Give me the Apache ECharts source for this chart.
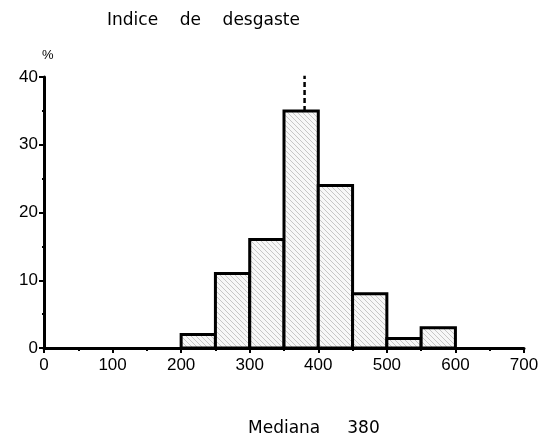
<!DOCTYPE html>
<html>
<head>
<meta charset="utf-8">
<script src="https://cdn.jsdelivr.net/npm/echarts@6/dist/echarts.min.js"></script>
<style>
  html, body { margin: 0; padding: 0; background: #fff; }
  #chart { width: 545px; height: 441px; }
</style>
</head>
<body>
<div id="chart"></div>
<script>
// 直方图数据：区间起点、终点、百分比
var binStart = [200, 250, 300, 350, 400, 450, 500, 550];
var binEnd   = [250, 300, 350, 400, 450, 500, 550, 600];
var percent  = [2, 11, 16, 35, 24, 8, 1.4, 3];
var median = 380;
var medianTop = 41.3;
var xTicks = [0, 100, 200, 300, 400, 500, 600, 700];
var yTicks = [0, 10, 20, 30, 40];

// 斜线填充图案
function makeHatch() {
    var c = document.createElement('canvas');
    c.width = 5; c.height = 5;
    var ctx = c.getContext('2d');
    ctx.fillStyle = '#f7f7f7';
    ctx.fillRect(0, 0, 5, 5);
    ctx.strokeStyle = '#b0b0b0';
    ctx.lineWidth = 0.7;
    ctx.beginPath();
    ctx.moveTo(0, 0); ctx.lineTo(5, 5);
    ctx.moveTo(-2.5, 2.5); ctx.lineTo(2.5, 7.5);
    ctx.moveTo(2.5, -2.5); ctx.lineTo(7.5, 2.5);
    ctx.stroke();
    return c;
}

var chart = echarts.init(document.getElementById('chart'));
var hatch = makeHatch();

var bins = binStart.map(function (s, i) { return [s, binEnd[i], percent[i]]; });
var medianBar = percent[binStart.indexOf(350)];

var font = '"Liberation Sans", Arial, sans-serif';
var wide = '"DejaVu Sans", sans-serif';

chart.setOption({
    animation: false,
    backgroundColor: '#fff',
    title: [{
        text: 'Indice    de    desgaste',
        left: 102, top: 7,
        textStyle: { fontFamily: wide, fontSize: 17, fontWeight: 'normal', color: '#000' }
    }, {
        text: '%',
        left: 37, top: 44,
        textStyle: { fontFamily: font, fontSize: 13, fontWeight: 'normal', color: '#000' }
    }, {
        text: 'Mediana     380',
        left: 243, top: 415,
        textStyle: { fontFamily: wide, fontSize: 17, fontWeight: 'normal', color: '#000' }
    }],
    grid: { left: 44, right: 21, top: 77, bottom: 93 },
    xAxis: {
        type: 'value', min: 0, max: 700, interval: 100,
        axisLine: { show: true, onZero: false, lineStyle: { color: '#000', width: 3 } },
        axisTick: { show: true, length: 5, lineStyle: { color: '#000', width: 2 } },
        minorTick: { show: true, splitNumber: 2, length: 3, lineStyle: { color: '#000', width: 2 } },
        axisLabel: {
            color: '#000', fontSize: 17, fontFamily: font, margin: 9,
            formatter: function (v) { return xTicks.indexOf(v) >= 0 ? String(v) : ''; }
        },
        splitLine: { show: false }
    },
    yAxis: {
        type: 'value', min: 0, max: 40, interval: 10,
        axisLine: { show: true, lineStyle: { color: '#000', width: 3 } },
        axisTick: { show: true, length: 5, lineStyle: { color: '#000', width: 2 } },
        minorTick: { show: true, splitNumber: 2, length: 2, lineStyle: { color: '#000', width: 2 } },
        axisLabel: {
            color: '#000', fontSize: 17, fontFamily: font, margin: 6,
            formatter: function (v) { return yTicks.indexOf(v) >= 0 ? String(v) : ''; }
        },
        splitLine: { show: false }
    },
    series: [{
        type: 'custom',
        data: bins,
        encode: { x: [0, 1], y: 2 },
        renderItem: function (params, api) {
            var p0 = api.coord([api.value(0), api.value(2)]);
            var p1 = api.coord([api.value(1), 0]);
            return {
                type: 'rect',
                shape: { x: p0[0], y: p0[1], width: p1[0] - p0[0], height: p1[1] - p0[1] },
                style: { fill: { image: hatch, repeat: 'repeat' }, stroke: '#000', lineWidth: 3 }
            };
        }
    }, {
        // 中位数虚线
        type: 'line',
        data: [[median, medianBar], [median, medianTop]],
        symbol: 'none',
        lineStyle: { color: '#000', width: 2.5, type: [5, 3] },
        z: 3
    }]
});
</script>
</body>
</html>
